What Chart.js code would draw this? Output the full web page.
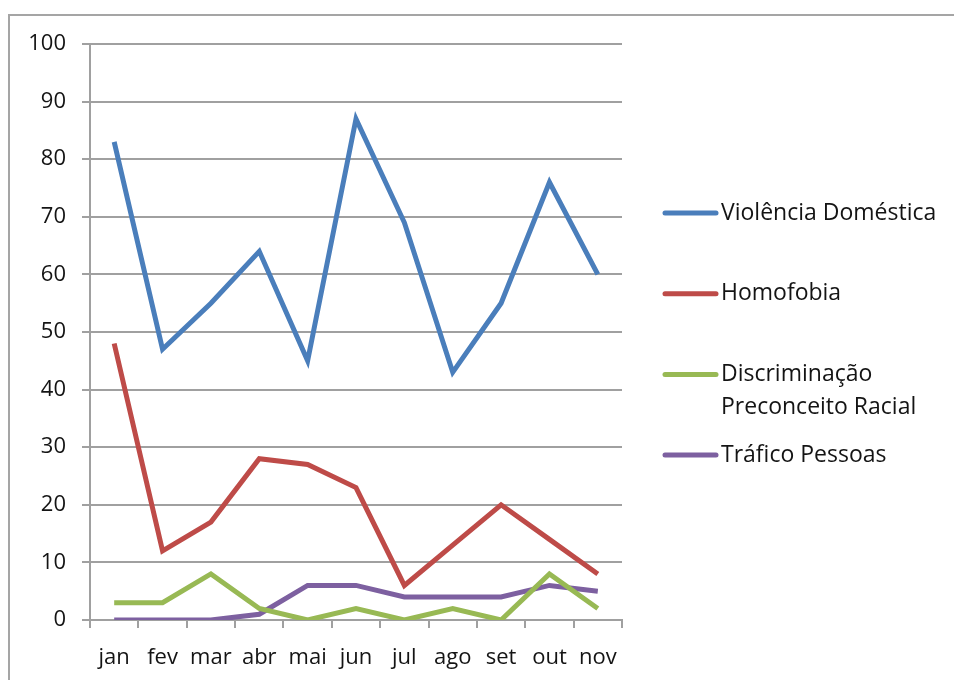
<!DOCTYPE html>
<html>
<head>
<meta charset="utf-8">
<script src="https://cdn.jsdelivr.net/npm/chart.js@4/dist/chart.umd.min.js"></script>
<style>
  body { margin: 0; background: #fff; overflow: hidden; }
  #moldura { position: absolute; left: 8px; top: 14px; width: 1000px; height: 720px; border: 2px solid #a5a5a5; }
  #grafico { position: absolute; left: 0; top: 0; }
</style>
</head>
<body>
<div id="moldura"></div>
<canvas id="grafico" width="954" height="680"></canvas>
<script>
// dados
var meses = ['jan', 'fev', 'mar', 'abr', 'mai', 'jun', 'jul', 'ago', 'set', 'out', 'nov'];
var violencia = [83, 47, 55, 64, 45, 87, 69, 43, 55, 76, 60];
var homofobia = [48, 12, 17, 28, 27, 23, 6, 13, 20, 14, 8];
var discriminacao = [3, 3, 8, 2, 0, 2, 0, 2, 0, 8, 2];
var trafico = [0, 0, 0, 1, 6, 6, 4, 4, 4, 6, 5];
var nomes = ['Violência Doméstica', 'Homofobia', 'Discriminação Preconceito Racial', 'Tráfico Pessoas'];
var cores = ['#4a7ebb', '#be4b48', '#98b954', '#7d60a0'];

var fonte = '"Open Sans", sans-serif';

// legenda desenhada a mao, a do chart.js nao quebra linha
var legendaPlugin = {
	id: 'legenda',
	afterDraw: function(chart) {
		var ctx = chart.ctx;
		ctx.save();
		ctx.font = '23px ' + fonte;
		ctx.fillStyle = '#141414';
		ctx.textBaseline = 'middle';
		chart.data.datasets.forEach(function(ds, i) {
			var y = 213 + i * 80.7;
			ctx.strokeStyle = ds.borderColor;
			ctx.lineWidth = 5;
			ctx.lineCap = 'round';
			ctx.beginPath();
			ctx.moveTo(665, y);
			ctx.lineTo(716, y);
			ctx.stroke();
			// quebra de linha simples
			var palavras = ds.label.split(' ');
			var linha = '', linhas = [];
			palavras.forEach(function(p) {
				var teste = linha ? linha + ' ' + p : p;
				if (ctx.measureText(teste).width > 225 && linha) {
					linhas.push(linha);
					linha = p;
				} else {
					linha = teste;
				}
			});
			linhas.push(linha);
			linhas.forEach(function(l, k) {
				ctx.fillText(l, 721, y + k * 33);
			});
		});
		ctx.restore();
	}
};

var ctx = document.getElementById('grafico').getContext('2d');
var series = [violencia, homofobia, discriminacao, trafico];
var grafico = new Chart(ctx, {
	type: 'line',
	data: {
		labels: meses,
		datasets: series.map(function(s, i) {
			return {
				label: nomes[i],
				data: s,
				borderColor: cores[i],
				backgroundColor: cores[i],
				borderWidth: 5,
				pointRadius: 0,
				tension: 0,
				fill: false
			};
		})
	},
	options: {
		responsive: false,
		animation: false,
		layout: { padding: { left: 0, top: 44, right: 332, bottom: 0 } },
		plugins: {
			legend: { display: false },
			tooltip: { enabled: false }
		},
		scales: {
			x: {
				offset: true,
				grid: { offset: true, drawOnChartArea: false, drawTicks: true, tickLength: 8, color: '#a0a0a0', lineWidth: 2 },
				border: { display: true, color: '#a0a0a0', width: 2 },
				ticks: { color: '#141414', font: { family: fonte, size: 22 }, padding: 17, maxRotation: 0, autoSkip: false },
				afterFit: function(scale) { scale.height = 60; }
			},
			y: {
				min: 0,
				max: 100,
				grid: { color: '#a0a0a0', lineWidth: 2, tickLength: 8 },
				border: { display: true, color: '#a0a0a0', width: 2 },
				ticks: { stepSize: 10, color: '#141414', font: { family: fonte, size: 22 }, padding: 16 },
				afterFit: function(scale) { scale.width = 90; }
			}
		}
	},
	plugins: [legendaPlugin]
});
</script>
</body>
</html>
